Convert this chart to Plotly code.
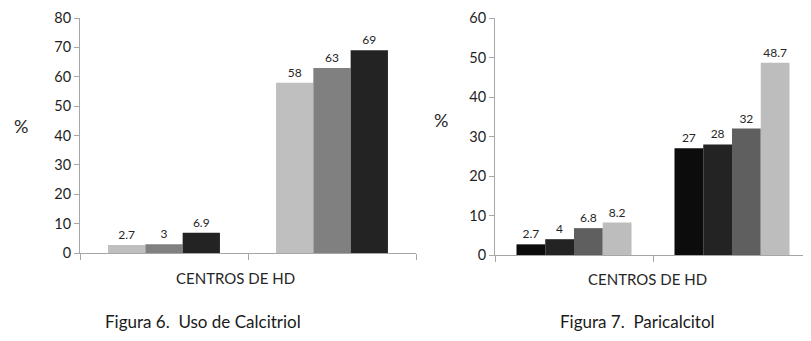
import plotly.graph_objects as go

# ---------------- data ----------------
categories = ["Grupo 1", "Grupo 2"]

# Figura 6 - Uso de Calcitriol (3 series)
calc_s1 = [2.7, 58]
calc_s2 = [3, 63]
calc_s3 = [6.9, 69]

# Figura 7 - Paricalcitol (4 series)
pari_s1 = [2.7, 27]
pari_s2 = [4, 28]
pari_s3 = [6.8, 32]
pari_s4 = [8.2, 48.7]

calc_ticks = [0, 10, 20, 30, 40, 50, 60, 70, 80]
pari_ticks = [0, 10, 20, 30, 40, 50, 60]

axis_title = "CENTROS DE HD"
caption_6 = "Figura 6.  Uso de Calcitriol"
caption_7 = "Figura 7.  Paricalcitol"

# ---------------- styling ----------------
FONT = "Lato"
PAGE_OFFSET = 8           # default body margin of the html page
W, H = 811 - PAGE_OFFSET, 341 - PAGE_OFFSET
calc_colors = ["#bfbfbf", "#808080", "#232323"]
pari_colors = ["#0c0c0c", "#232323", "#5f5f5f", "#bdbdbd"]

def px_x(p):
    return (p - PAGE_OFFSET) / W

def px_y(p):
    return 1 - (p - PAGE_OFFSET) / H

fig = go.Figure()

# left chart bars
w3 = 0.222
for i, (vals, col) in enumerate(zip([calc_s1, calc_s2, calc_s3], calc_colors)):
    fig.add_trace(go.Bar(
        x=categories, y=vals, marker=dict(color=col, line=dict(width=0)),
        width=w3, offset=-1.5 * w3 + i * w3,
        text=[str(v) for v in vals], textposition="outside",
        textfont=dict(family=FONT, size=12, color="#262626"),
        cliponaxis=False, xaxis="x", yaxis="y", showlegend=False,
    ))

# right chart bars
w4 = 0.182
for i, (vals, col) in enumerate(zip([pari_s1, pari_s2, pari_s3, pari_s4], pari_colors)):
    fig.add_trace(go.Bar(
        x=categories, y=vals, marker=dict(color=col, line=dict(width=0)),
        width=w4, offset=-2 * w4 + i * w4,
        text=[str(v) for v in vals], textposition="outside",
        textfont=dict(family=FONT, size=12, color="#262626"),
        cliponaxis=False, xaxis="x2", yaxis="y2", showlegend=False,
    ))

axis_line = "#a6a6a6"
xcommon = dict(type="category", showticklabels=False, showgrid=False,
               showline=True, linecolor=axis_line, linewidth=1,
               ticks="outside", tickson="boundaries", ticklen=6,
               tickcolor=axis_line, range=[-0.5, 1.5], zeroline=False,
               fixedrange=True, automargin=False)
ycommon = dict(showgrid=False, showline=True, linecolor=axis_line, linewidth=1,
               ticks="outside", ticklen=5, tickcolor=axis_line, zeroline=False,
               tickfont=dict(family=FONT, size=14.5, color="#1f1f1f"),
               fixedrange=True, automargin=False)

def note(text, x, y, size, color="#262626"):
    return dict(text=text, x=px_x(x), y=px_y(y), xref="paper", yref="paper",
                xanchor="center", yanchor="middle", showarrow=False,
                font=dict(family=FONT, size=size, color=color))

fig.update_layout(
    template="none",
    width=W, height=H, autosize=False,
    margin=dict(l=0, r=0, t=0, b=0, pad=0),
    paper_bgcolor="white", plot_bgcolor="white",
    barmode="overlay",
    font=dict(family=FONT, color="#262626"),
    xaxis=dict(domain=[px_x(80), px_x(416)], anchor="y", **xcommon),
    yaxis=dict(domain=[px_y(253), px_y(18)], anchor="x", range=[0, 80],
               tickvals=calc_ticks, **ycommon),
    xaxis2=dict(domain=[px_x(495), px_x(811)], anchor="y2", **xcommon),
    yaxis2=dict(domain=[px_y(255), px_y(18)], anchor="x2", range=[0, 60],
                tickvals=pari_ticks, **ycommon),
    annotations=[
        note(axis_title, 235, 277.5, 15),
        note(axis_title, 647.5, 279, 15),
        note("%", 20.5, 126, 18),
        note("%", 440.5, 120, 18),
        note(caption_6, 202.5, 321, 17, "#1a1a1a"),
        note(caption_7, 637.5, 321, 17, "#1a1a1a"),
    ],
)

fig.write_html("out.html")
